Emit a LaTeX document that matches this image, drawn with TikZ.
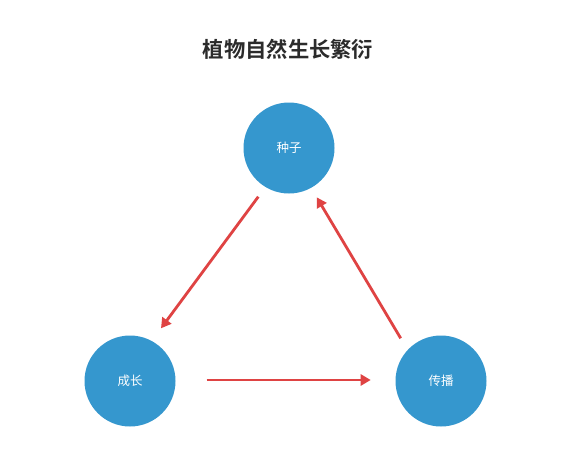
\documentclass[tikz,border=0pt]{standalone}
\usepackage{fontspec}
\setmainfont{Noto Sans CJK SC}
\newfontfamily\cjkbold{Noto Sans CJK SC Bold}
\usetikzlibrary{arrows.meta}
\definecolor{circblue}{HTML}{3597CE}
\definecolor{arrred}{HTML}{DF4343}
\definecolor{titlegray}{HTML}{2B2B2B}
\begin{document}
\begin{tikzpicture}[x=1pt,y=-1pt,
  stage/.style={circle,fill=circblue,draw=none,minimum size=91pt,inner sep=0pt,text=white,font=\fontsize{12.5}{14}\selectfont},
  flow/.style={draw=arrred,line width=2.8pt,-{Triangle[length=10pt,width=11pt]}}]
\useasboundingbox[fill=white] (0,0) rectangle (565,474);
\node[font=\cjkbold\fontsize{21.3}{24}\selectfont,text=titlegray] (title) at (288,49) {植物自然生长繁衍};
\node[stage] (seed) at (289,148) {种子};
\node[stage] (grow) at (130,381) {成长};
\node[stage] (spread) at (441,381) {传播};
\coordinate (a1s) at (258.3,196.7);
\coordinate (a1e) at (161,328.3);
\coordinate (a2s) at (206.7,380);
\coordinate (a2e) at (370.7,380);
\coordinate (a3s) at (400.7,338.3);
\coordinate (a3e) at (316.7,197.3);
\draw[flow] (a1s) -- (a1e);
\draw[flow] (a2s) -- (a2e);
\draw[flow] (a3s) -- (a3e);
\end{tikzpicture}
\end{document}
